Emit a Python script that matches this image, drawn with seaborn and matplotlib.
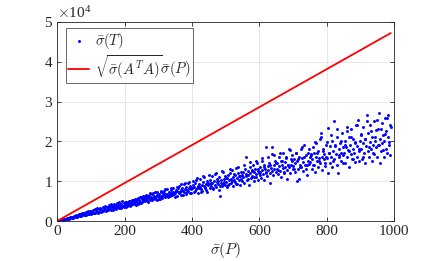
import matplotlib
matplotlib.use("Agg")
import matplotlib.pyplot as plt
import numpy as np
import pandas as pd
import seaborn as sns
from matplotlib.ticker import ScalarFormatter

# ---------------------------------------------------------------------------
# Data (sigma_T stored in units of 1e4)
# ---------------------------------------------------------------------------
sigma_P = [
    1, 3, 5, 7, 9, 11, 13, 15, 17, 19, 21, 23, 25, 27, 29, 31, 33, 35, 37, 39, 41, 43, 45, 47, 49,
    51, 53, 55, 57, 59, 61, 63, 65, 67, 69, 71, 73, 75, 77, 79, 81, 83, 85, 87, 89, 91, 93, 95, 97, 99,
    101, 103, 105, 107, 109, 111, 113, 115, 117, 119, 121, 123, 125, 127, 129, 131, 133, 135, 137, 139, 141, 143, 145, 147, 149,
    151, 153, 155, 157, 159, 161, 163, 165, 167, 169, 171, 173, 175, 177, 179, 181, 183, 185, 187, 189, 191, 193, 195, 197, 199,
    201, 203, 205, 207, 209, 211, 213, 215, 217, 219, 221, 223, 225, 227, 229, 231, 233, 235, 237, 239, 241, 243, 245, 247, 249,
    251, 253, 255, 257, 259, 261, 263, 265, 267, 269, 271, 273, 275, 277, 279, 281, 283, 285, 287, 289, 291, 293, 295, 297, 299,
    301, 303, 305, 307, 309, 311, 313, 315, 317, 319, 321, 323, 325, 327, 329, 331, 333, 335, 337, 339, 341, 343, 345, 347, 349,
    351, 353, 355, 357, 359, 361, 363, 365, 367, 369, 371, 373, 375, 377, 379, 381, 383, 385, 387, 389, 391, 393, 395, 397, 399,
    401, 403, 405, 407, 409, 411, 413, 415, 417, 419, 421, 423, 425, 427, 429, 431, 433, 435, 437, 439, 441, 443, 445, 447, 449,
    451, 453, 455, 457, 459, 461, 463, 465, 467, 469, 471, 473, 475, 477, 479, 481, 483, 485, 487, 489, 491, 493, 495, 497, 499,
    501, 503, 505, 507, 509, 511, 513, 515, 517, 519, 521, 523, 525, 527, 529, 531, 533, 535, 537, 539, 541, 543, 545, 547, 549,
    551, 553, 555, 557, 559, 561, 563, 565, 567, 569, 571, 573, 575, 577, 579, 581, 583, 585, 587, 589, 591, 593, 595, 597, 599,
    601, 603, 605, 607, 609, 611, 613, 615, 617, 619, 621, 623, 625, 627, 629, 631, 633, 635, 637, 639, 641, 643, 645, 647, 649,
    651, 653, 655, 657, 659, 661, 663, 665, 667, 669, 671, 673, 675, 677, 679, 681, 683, 685, 687, 689, 691, 693, 695, 697, 699,
    701, 703, 705, 707, 709, 711, 713, 715, 717, 719, 721, 723, 725, 727, 729, 731, 733, 735, 737, 739, 741, 743, 745, 747, 749,
    751, 753, 755, 757, 759, 761, 763, 765, 767, 769, 771, 773, 775, 777, 779, 781, 783, 785, 787, 789, 791, 793, 795, 797, 799,
    801, 803, 805, 807, 809, 811, 813, 815, 817, 819, 821, 823, 825, 827, 829, 831, 833, 835, 837, 839, 841, 843, 845, 847, 849,
    851, 853, 855, 857, 859, 861, 863, 865, 867, 869, 871, 873, 875, 877, 879, 881, 883, 885, 887, 889, 891, 893, 895, 897, 899,
    901, 903, 905, 907, 909, 911, 913, 915, 917, 919, 921, 923, 925, 927, 929, 931, 933, 935, 937, 939, 941, 943, 945, 947, 949,
    951, 953, 955, 957, 959, 961, 963, 965, 967, 969, 971, 973, 975, 977, 979, 981, 983, 985, 987, 989,
]
sigma_T_e4 = [
    .002, .005, .013, .012, .022, .019, .033, .026, .04, .033, .052, .04, .06, .05, .07, .055, .082, .062, .09, .07, .1, .078, .11, .085, .12,
    .09, .13, .1, .15, .11, .16, .115, .17, .12, .18, .13, .19, .14, .2, .145, .21, .15, .22, .16, .23, .17, .25, .18, .26, .2,
    .17, .26, .19, .28, .2, .3, .2, .27, .22, .32, .21, .3, .24, .34, .23, .31, .26, .36, .25, .33, .28, .38, .26, .35, .3,
    .28, .4, .3, .36, .27, .42, .31, .38, .29, .44, .33, .4, .3, .46, .35, .41, .32, .48, .36, .43, .34, .5, .38, .45, .36,
    .4, .47, .36, .44, .49, .41, .46, .38, .5, .43, .47, .52, .42, .49, .45, .55, .4, .5, .47, .57, .44, .52, .49, .6, .46,
    .55, .48, .62, .52, .58, .5, .66, .55, .6, .47, .63, .57, .7, .54, .6, .52, .67, .59, .64, .56, .72, .6, .53, .66, .62,
    .6, .68, .55, .72, .64, .58, .7, .66, .76, .61, .69, .64, .8, .67, .6, .73, .69, .62, .78, .7, .65, .74, .84, .68, .72,
    .7, .78, .64, .75, .82, .7, .88, .74, .79, .66, .83, .76, .92, .72, .8, .68, .86, .78, .95, .75, .82, .7, .88, .8, .84,
    .82, .9, .74, .86, .95, .8, 1.02, .84, .88, .7, .92, .86, 1.05, .8, .9, .76, .98, .88, 1.1, .83, .93, .79, 1.0, .9, .95,
    .92, .84, 1.02, .88, 1.12, .95, .8, 1.0, .9, 1.18, .86, .98, 1.06, .92, .78, 1.1, .62, .96, 1.02, .88, 1.22, .94, 1.05, .9, 1.14,
    .98, 1.08, .86, 1.15, 1.02, .92, 1.2, 1.05, .96, 1.28, 1.1, .88, 1.04, 1.16, .98, 1.32, 1.08, .94, 1.2, 1.02, 1.12, .9, 1.24, 1.06, 1.15,
    1.1, 1.22, .96, 1.3, 1.6, 1.12, 1.02, 1.25, 1.16, .9, 1.35, 1.2, 1.08, 1.28, 1.14, 1.42, 1.0, 1.22, 1.3, 1.1, 1.18, 1.45, 1.04, 1.26, 1.2,
    1.22, 1.35, 1.08, 1.28, 1.5, 1.18, 1.4, 1.02, 1.3, 1.87, 1.24, 1.12, 1.38, 1.28, 1.45, 1.2, .95, 1.34, 1.68, 1.85, 1.15, 1.42, 1.3, 1.5, 1.22,
    1.3, 1.45, 1.18, 1.38, 1.62, 1.25, 1.52, 1.1, 1.4, 1.72, 1.32, 1.22, 1.48, 1.36, 1.58, 1.28, 1.05, 1.42, 1.8, 1.35, 1.2, 1.55, 1.4, 1.65, 1.3,
    1.38, 1.55, 1.22, 1.45, 1.7, 1.0, 1.5, 1.3, 1.62, 1.05, 1.42, 1.8, 1.35, 1.58, 1.25, 1.48, 1.9, 1.4, 1.65, 1.3, 1.15, 1.52, 1.72, 1.44, 1.6,
    1.48, 1.65, 1.3, 1.55, 1.85, 1.4, 1.7, 1.22, 1.6, 1.95, 1.5, 1.35, 1.75, 1.58, 2.05, 1.45, 2.22, 1.62, 1.28, 1.8, 1.55, 1.68, 1.38, 1.9, 1.6,
    1.58, 1.2, 2.34, 1.7, 1.45, 1.88, 1.62, 2.0, 1.35, 1.75, 2.5, 1.55, 1.9, 1.68, 1.42, 2.1, 1.2, 1.8, 1.6, 1.95, 1.5, 1.72, 2.2, 1.65, 1.85,
    1.7, 2.0, 1.45, 1.85, 2.25, 1.6, 1.78, 2.1, 1.35, 1.92, 1.68, 2.3, 1.55, 1.82, 2.05, 1.72, 1.48, 1.95, 2.4, 1.62, 1.88, 2.55, 1.76, 1.5, 2.0,
    1.8, 2.15, 1.55, 1.95, 2.35, 1.7, 2.05, 1.45, 1.88, 2.67, 1.75, 2.2, 1.6, 1.98, 2.4, 1.82, 1.5, 2.1, 1.92, 2.5, 1.68, 2.0, 1.85, 2.28, 1.62,
    1.9, 2.3, 2.72, 1.46, 2.05, 1.75, 2.45, 1.95, 2.15, 1.6, 2.0, 2.6, 1.82, 2.25, 1.7, 2.67, 2.1, 1.9, 2.4, 1.65,
]
# second pass of points read from the denser part of the cloud
sigma_P_extra = [
    104, 110, 116, 122, 128, 134, 140, 146, 152, 158, 164, 170, 176, 182, 188, 194, 200, 206, 212, 218,
    224, 230, 236, 242, 248, 254, 260, 266, 272, 278, 284, 290, 296, 302, 308, 314, 320, 326, 332, 338,
    344, 350, 356, 362, 368, 374, 380, 386, 392, 398, 404, 410, 416, 422, 428, 434, 440, 446, 452, 458,
    464, 470, 476, 482, 488, 494, 500, 506, 512, 518, 524, 530, 536, 542, 548, 554, 560, 566, 572, 578,
    584, 590, 596, 602, 608, 614, 620, 626, 632, 638, 644, 650, 656, 662, 668, 674, 680, 686, 692, 698,
    704, 710, 716, 722, 728, 734, 740, 746, 752, 758, 764, 770, 776, 782, 788, 794, 800, 806, 812, 818,
    824, 830, 836, 842, 848, 854, 860, 866, 872, 878, 884, 890, 896, 902, 908, 914, 920, 926, 932, 938,
    944, 950, 956, 962, 968, 974, 980, 986, 992,
]
sigma_T_extra_e4 = [
    .25, .19, .28, .22, .3, .25, .34, .27, .36, .3, .39, .33, .41, .35, .44, .37, .48, .39, .5, .41,
    .53, .44, .56, .46, .6, .5, .62, .52, .66, .55, .7, .58, .72, .56, .76, .62, .8, .66, .63, .84,
    .68, .6, .86, .72, .92, .66, .96, .74, .98, .7, 1.0, .76, 1.08, .82, .72, 1.12, .86, .74, 1.15, .96,
    .84, 1.2, 1.0, .88, 1.25, .98, 1.08, .9, 1.3, 1.0, 1.18, .92, 1.36, 1.12, 1.0, 1.4, 1.18, 1.05, 1.48, 1.25,
    1.1, 1.52, 1.3, 1.15, 1.58, 1.36, 1.2, 1.62, 1.42, 1.25, 1.66, 1.45, 1.28, 1.7, 1.5, 1.2, 1.62, 1.4, 1.78, 1.5,
    1.3, 1.72, 1.55, 1.35, 1.85, 1.6, 1.4, 1.82, 1.68, 1.42, 1.98, 1.72, 1.5, 2.1, 1.75, 1.45, 1.98, 1.7, 2.15, 1.52,
    1.88, 2.3, 1.65, 2.02, 1.45, 1.9, 2.35, 1.75, 2.1, 1.55, 1.98, 2.42, 1.8, 2.18, 1.62, 2.05, 2.5, 1.85, 2.25, 1.7,
    2.12, 2.55, 1.92, 2.3, 1.78, 2.18, 2.6, 1.98, 2.35,
]
bound_P = [0, 990]
bound_val = [0, 47200]

LABEL_T = r"$\bar{\sigma}(T)$"
LABEL_B = r"$\sqrt{\bar{\sigma}(A^TA)}\bar{\sigma}(P)$"

sns.set_theme(style="ticks")
plt.rcParams.update({
    "font.family": ["Liberation Serif", "DejaVu Serif"],
    "mathtext.fontset": "cm",
    "axes.edgecolor": "#262626",
    "axes.linewidth": 0.6,
    "xtick.direction": "in",
    "ytick.direction": "in",
    "xtick.top": True,
    "ytick.right": True,
    "xtick.major.size": 3,
    "ytick.major.size": 3,
    "xtick.major.width": 0.6,
    "ytick.major.width": 0.6,
    "xtick.color": "#262626",
    "ytick.color": "#262626",
})

df = pd.DataFrame({
    "P": sigma_P + sigma_P_extra,
    "T": np.array(sigma_T_e4 + sigma_T_extra_e4) * 1e4,
})
line_df = pd.DataFrame({"P": bound_P, "B": bound_val})

fig = plt.figure(figsize=(4.36, 2.61), dpi=100)
ax = fig.add_axes([0.131, 0.153, 0.773, 0.763])

ax.grid(True, color="#e3e3e3", lw=0.6)
ax.set_axisbelow(True)

sns.scatterplot(data=df, x="P", y="T", ax=ax, color="#0000ff", s=4.5,
                linewidth=0, marker="o", label=LABEL_T)
sns.lineplot(data=line_df, x="P", y="B", ax=ax, color="#ff0000", lw=1.3,
             label=LABEL_B)

ax.set_xlim(0, 1000)
ax.set_ylim(0, 5e4)
ax.set_xticks([0, 200, 400, 600, 800, 1000])
ax.set_yticks([0, 1e4, 2e4, 3e4, 4e4, 5e4])
fmt = ScalarFormatter(useMathText=True)
fmt.set_powerlimits((0, 0))
ax.yaxis.set_major_formatter(fmt)
ax.tick_params(labelsize=11, pad=3)
ax.yaxis.get_offset_text().set_fontsize(11)
ax.set_xlabel(r"$\bar{\sigma}(P)$", fontsize=11, labelpad=1)
ax.set_ylabel("")

leg = ax.legend(loc="upper left", bbox_to_anchor=(0.025, 0.97), fontsize=10.5,
                frameon=True, fancybox=False, edgecolor="#262626",
                markerscale=1.0, handlelength=1.4, borderpad=0.2,
                labelspacing=0.15, handletextpad=0.4, borderaxespad=0)
leg.get_frame().set_linewidth(0.6)

fig.savefig("out.png", dpi=100)
